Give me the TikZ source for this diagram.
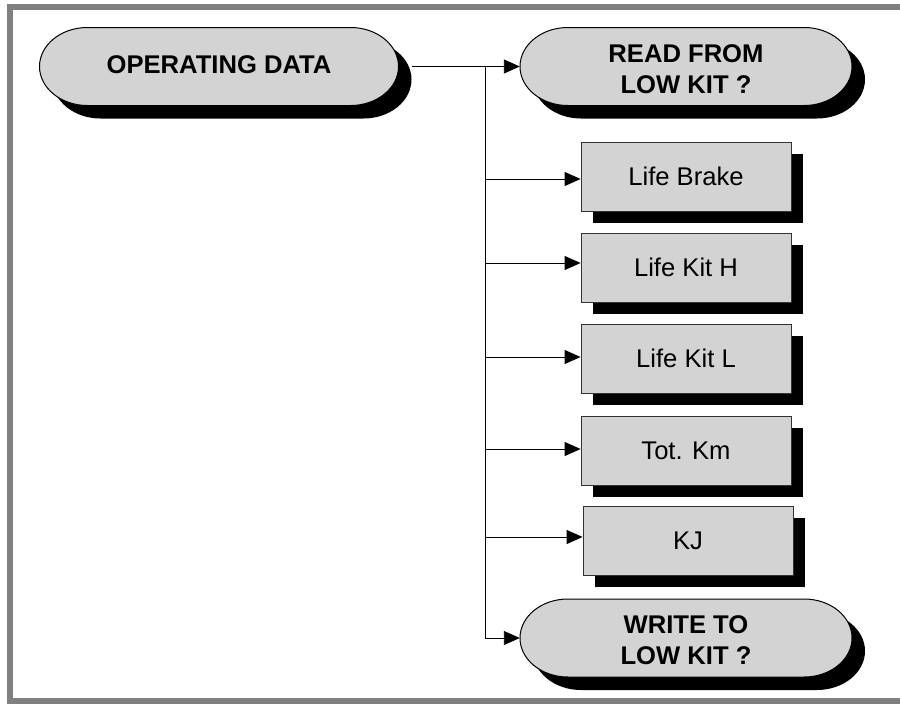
\documentclass[tikz,border=0pt]{standalone}
\usepackage{fontspec}
\setmainfont{Liberation Sans}
\usetikzlibrary{arrows.meta,shadows}
\definecolor{boxgray}{HTML}{D3D3D3}
\definecolor{framegray}{HTML}{808080}
\tikzset{
  conn/.style={draw=black, line width=0.9pt},
  arr/.style={conn, -{Triangle[length=16pt,width=14pt]}},
  pilltext/.style={inner sep=0pt, align=center, font=\fontsize{25.6}{32}\selectfont\bfseries},
  boxnode/.style={rectangle, draw=black!80, line width=0.8pt, fill=boxgray,
    minimum width=210pt, minimum height=69pt, inner sep=0pt,
    font=\fontsize{25.6}{30}\selectfont,
    drop shadow={shadow xshift=12pt, shadow yshift=-12pt, fill=black, opacity=1}},
}
% #1 name, #2 cx, #3 cy, #4 w, #5 half height, #6 text raise, #7 text
\newcommand\mypill[7]{%
  \fill[black] ({#2-#4/2+48+13},{#3+#5-13}) -- ({#2+#4/2-48+13},{#3+#5-13})
     arc[start angle=90,end angle=-90,x radius=48pt,y radius=#5pt]
     -- ({#2-#4/2+48+13},{#3-#5-13})
     arc[start angle=270,end angle=90,x radius=48pt,y radius=#5pt] -- cycle;
  \filldraw[fill=boxgray, draw=black, line width=1pt]
     ({#2-#4/2+48},{#3+#5}) -- ({#2+#4/2-48},{#3+#5})
     arc[start angle=90,end angle=-90,x radius=48pt,y radius=#5pt]
     -- ({#2-#4/2+48},{#3-#5})
     arc[start angle=270,end angle=90,x radius=48pt,y radius=#5pt] -- cycle;
  \node[pilltext, minimum width=#4pt, minimum height=2*#5pt] (#1) at (#2,#3) {\raisebox{#6}[0pt][0pt]{\begin{tabular}{@{}c@{}}#7\end{tabular}}};
}
\begin{document}
\begin{tikzpicture}[x=1pt,y=1pt]
\useasboundingbox (0,0) rectangle (900,-704);
\fill[white] (0,0) rectangle (900,-704);
\draw[framegray, line width=6pt] (10,-7) rectangle (930,-701);

% trunk coordinates
\coordinate (t0) at (485,-66.5);
\coordinate (t1) at (485,-179);
\coordinate (t2) at (485,-263);
\coordinate (t3) at (485,-357);
\coordinate (t4) at (485,-449);
\coordinate (t5) at (485,-537);
\coordinate (t6) at (485,-638);

\mypill{op}{219}{-66.5}{359}{39}{-6.5pt}{OPERATING DATA}
\mypill{rd}{686}{-66.5}{332}{39}{-11pt}{READ FROM\\[-1pt]LOW KIT ?}
\mypill{wr}{686}{-638}{332}{39}{-11pt}{WRITE TO\\[-1pt]LOW KIT ?}

% main connector starts at the shadow edge of the first pill
\draw[arr] ([xshift=13pt]op.east) -- (rd.west);
\draw[conn] (t0) -- (t6);
\draw[arr] (t6) -- (wr.west);

\node[boxnode] (lb) at (686,-176.5) {Life Brake};
\node[boxnode] (kh) at (686,-267.5) {Life Kit H};
\node[boxnode] (kl) at (686,-358.5) {Life Kit L};
\node[boxnode] (tk) at (686,-450.5) {Tot. Km};
\node[boxnode] (kj) at (688,-540.5) {KJ};

\draw[arr] (t1) -- (t1 -| lb.west);
\draw[arr] (t2) -- (t2 -| kh.west);
\draw[arr] (t3) -- (t3 -| kl.west);
\draw[arr] (t4) -- (t4 -| tk.west);
\draw[arr] (t5) -- (t5 -| kj.west);
\end{tikzpicture}
\end{document}
